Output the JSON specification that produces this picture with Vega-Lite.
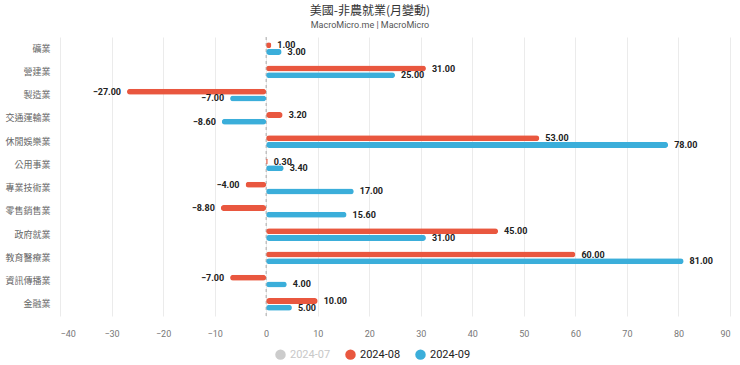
{
  "$schema": "https://vega.github.io/schema/vega-lite/v6.json",
  "autosize": {"type": "none"},
  "width": 670,
  "height": 279,
  "padding": {"left": 60, "top": 37, "right": 10, "bottom": 49},
  "background": "white",
  "title": {
    "text": "美國-非農就業(月變動)",
    "subtitle": "MacroMicro.me | MacroMicro",
    "anchor": "middle",
    "dx": -25,
    "offset": 6,
    "font": "Noto Sans CJK TC",
    "fontSize": 12,
    "fontWeight": "normal",
    "color": "#333333",
    "subtitleFont": "Roboto",
    "subtitleFontSize": 9,
    "subtitleColor": "#555555",
    "subtitlePadding": 3
  },
  "config": {
    "view": {"stroke": null},
    "font": "Noto Sans CJK TC"
  },
  "data": {
    "values": [
      {"industry": "礦業", "series": "2024-08", "value": 1.0},
      {"industry": "礦業", "series": "2024-09", "value": 3.0},
      {"industry": "營建業", "series": "2024-08", "value": 31.0},
      {"industry": "營建業", "series": "2024-09", "value": 25.0},
      {"industry": "製造業", "series": "2024-08", "value": -27.0},
      {"industry": "製造業", "series": "2024-09", "value": -7.0},
      {"industry": "交通運輸業", "series": "2024-08", "value": 3.2},
      {"industry": "交通運輸業", "series": "2024-09", "value": -8.6},
      {"industry": "休閒娛樂業", "series": "2024-08", "value": 53.0},
      {"industry": "休閒娛樂業", "series": "2024-09", "value": 78.0},
      {"industry": "公用事業", "series": "2024-08", "value": 0.3},
      {"industry": "公用事業", "series": "2024-09", "value": 3.4},
      {"industry": "專業技術業", "series": "2024-08", "value": -4.0},
      {"industry": "專業技術業", "series": "2024-09", "value": 17.0},
      {"industry": "零售銷售業", "series": "2024-08", "value": -8.8},
      {"industry": "零售銷售業", "series": "2024-09", "value": 15.6},
      {"industry": "政府就業", "series": "2024-08", "value": 45.0},
      {"industry": "政府就業", "series": "2024-09", "value": 31.0},
      {"industry": "教育醫療業", "series": "2024-08", "value": 60.0},
      {"industry": "教育醫療業", "series": "2024-09", "value": 81.0},
      {"industry": "資訊傳播業", "series": "2024-08", "value": -7.0},
      {"industry": "資訊傳播業", "series": "2024-09", "value": 4.0},
      {"industry": "金融業", "series": "2024-08", "value": 10.0},
      {"industry": "金融業", "series": "2024-09", "value": 5.0}
    ]
  },
  "encoding": {
    "y": {
      "field": "industry",
      "type": "nominal",
      "sort": null,
      "scale": {"paddingInner": 0, "paddingOuter": 0},
      "axis": {
        "title": null,
        "domain": false,
        "ticks": false,
        "grid": false,
        "labelColor": "#666666",
        "labelFontSize": 9,
        "labelPadding": 10
      }
    },
    "yOffset": {
      "field": "series",
      "type": "nominal",
      "scale": {"domain": ["2024-08", "2024-09"], "paddingInner": 0, "paddingOuter": 0.75}
    }
  },
  "layer": [
    {
      "mark": {"type": "rule", "color": "#aaaaaa", "strokeDash": [3, 3], "strokeWidth": 1},
      "data": {"values": [{"zero": 0}]},
      "encoding": {
        "x": {"field": "zero", "type": "quantitative"},
        "y": {"value": 0},
        "y2": {"value": 279},
        "yOffset": null
      }
    },
    {
      "mark": {"type": "bar", "height": 6, "cornerRadius": 3},
      "encoding": {
        "x": {
          "field": "value",
          "type": "quantitative",
          "scale": {"domain": [-40, 90], "nice": false, "zero": false},
          "axis": {
            "title": null,
            "values": [-40, -30, -20, -10, 0, 10, 20, 30, 40, 50, 60, 70, 80, 90],
            "domain": false,
            "ticks": false,
            "grid": true,
            "gridColor": "#ebebeb",
            "labelColor": "#777777",
            "labelFontSize": 9,
            "labelFont": "Roboto",
            "labelPadding": 13
          }
        },
        "color": {
          "field": "series",
          "type": "nominal",
          "scale": {
            "domain": ["2024-07", "2024-08", "2024-09"],
            "range": ["#cccccc", "#E9573F", "#3BAEDA"]
          },
          "legend": {
            "title": null,
            "orient": "none",
            "direction": "horizontal",
            "legendX": 215,
            "legendY": 312,
            "symbolType": "circle",
            "symbolSize": 110,
            "symbolStrokeWidth": 0,
            "labelFontSize": 11,
            "labelFont": "Roboto",
            "columnPadding": 14,
            "encode": {
              "labels": {
                "update": {
                  "fill": {"signal": "datum.label == '2024-07' ? '#c8c8c8' : '#222222'"}
                }
              }
            }
          }
        }
      }
    },
    {
      "transform": [{"filter": "datum.value >= 0"}],
      "mark": {"type": "text", "align": "left", "dx": 6, "fontSize": 9, "fontWeight": "bold", "font": "Roboto", "color": "#222222"},
      "encoding": {
        "x": {"field": "value", "type": "quantitative"},
        "text": {"field": "value", "type": "quantitative", "format": ".2f"}
      }
    },
    {
      "transform": [{"filter": "datum.value < 0"}],
      "mark": {"type": "text", "align": "right", "dx": -6, "fontSize": 9, "fontWeight": "bold", "font": "Roboto", "color": "#222222"},
      "encoding": {
        "x": {"field": "value", "type": "quantitative"},
        "text": {"field": "value", "type": "quantitative", "format": ".2f"}
      }
    }
  ]
}
